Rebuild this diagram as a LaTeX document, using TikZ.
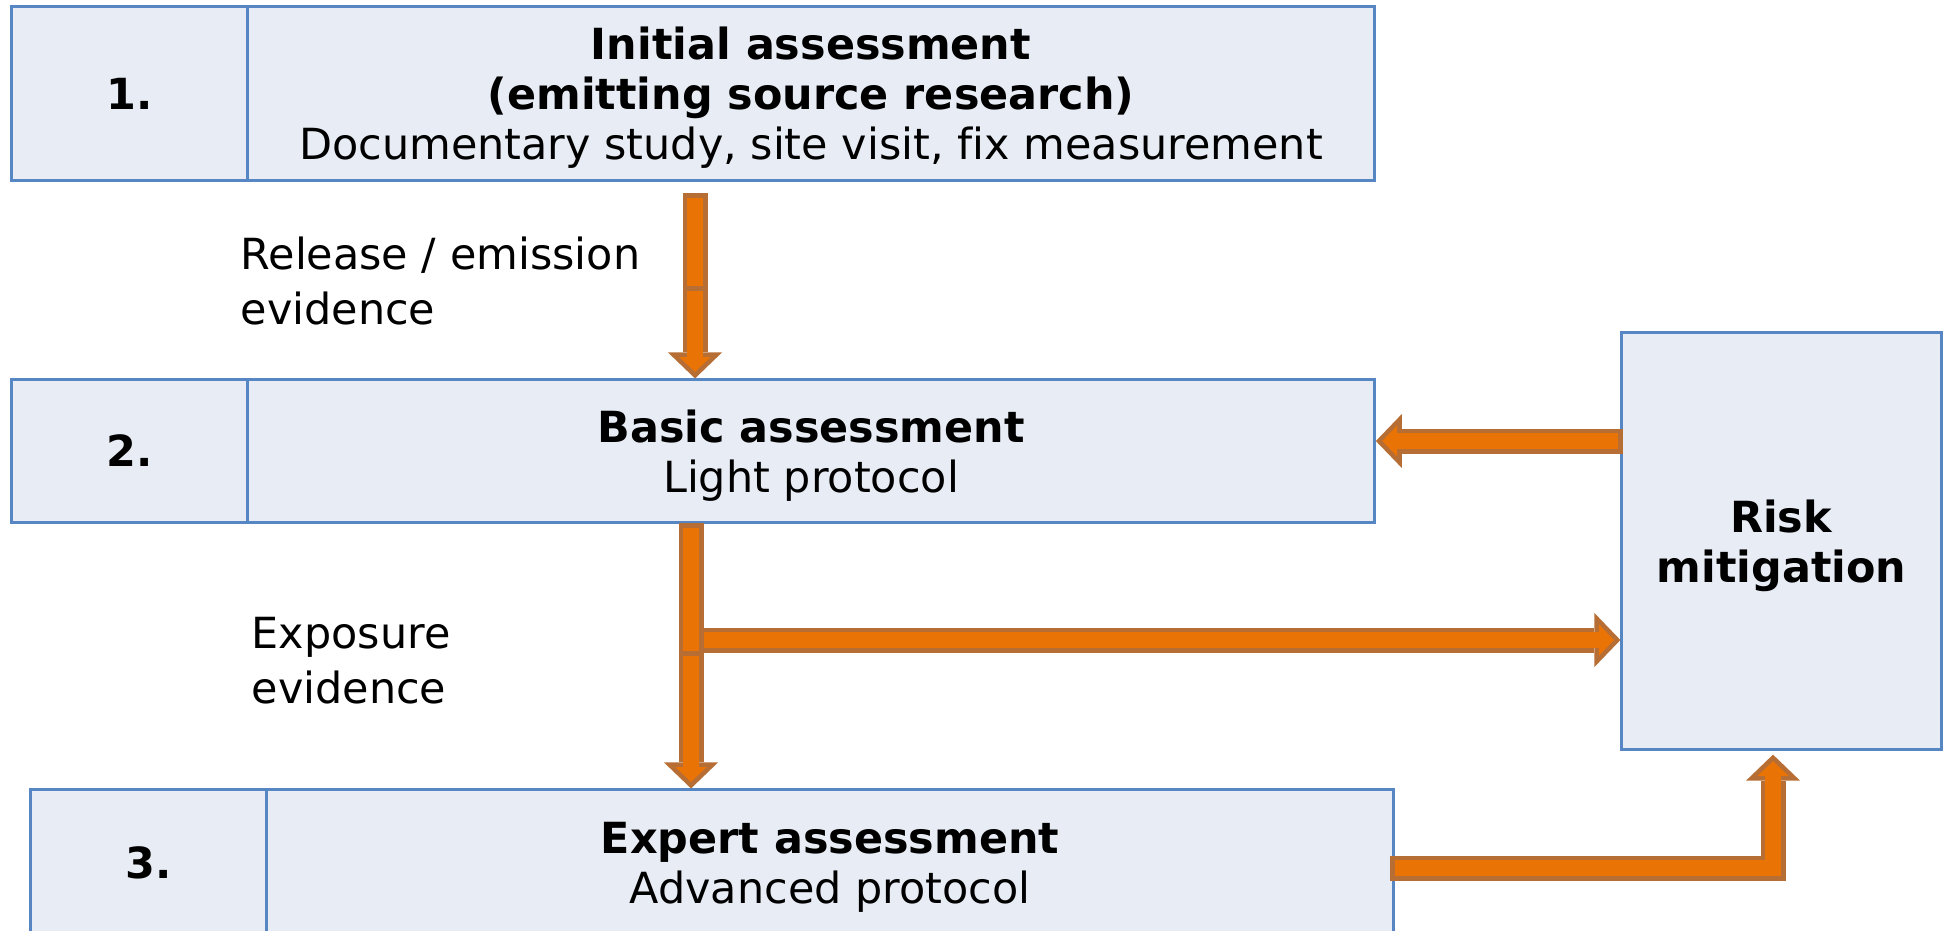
\documentclass[tikz,border=0pt]{standalone}
\usepackage{fontspec}
\setmainfont{DejaVu Sans}[Ligatures=NoCommon]
\usepackage{tikz}
\usetikzlibrary{arrows.meta}
\usepackage{xcolor}
\definecolor{boxfill}{RGB}{232,236,244}
\definecolor{boxline}{RGB}{86,134,196}
\definecolor{flowfill}{RGB}{234,115,5}
\definecolor{flowline}{RGB}{183,110,52}

\begin{document}
\begin{tikzpicture}[x=0.01cm,y=-0.01cm,
 box/.style={draw=boxline,fill=boxfill,line width=0.03cm,inner sep=0pt},
 txt/.style={font=\fontsize{12.2}{14.2}\selectfont,align=center,text depth=0pt},
 note/.style={font=\fontsize{12.2}{15.6}\selectfont,align=left,anchor=west,inner sep=0pt},
 flowbar/.style={draw=flowline,line width=0.25cm,
   postaction={draw=flowfill,line width=0.155cm,shorten <=0.047cm}},
 flow/.style={draw=flowline,line width=0.25cm,line join=miter,
   -{Triangle[length=0.26cm,width=0.54cm,line width=0pt]},
   postaction={draw=flowfill,line width=0.155cm,shorten <=0.047cm,shorten >=0.065cm,
   -{Triangle[length=0.148cm,width=0.31cm,line width=0pt]}}}]
 \clip (0,0) rectangle (1946,930);

 \foreach \n/\x/\y/\h in {1/130/93.5/1.73, 2/130/451/1.42, 3/148.5/863/1.46}{
  \node[box,txt,minimum width=2.36cm,minimum height=\h cm] (n\n) at (\x,\y) {\textbf{\n.}};
 }
 \node[box,txt,minimum width=11.26cm,minimum height=1.73cm] (b1) at (811,93.5)
  {\textbf{Initial assessment}\\\textbf{(emitting source research)}\\Documentary study, site visit, fix measurement};
 \node[box,txt,minimum width=11.26cm,minimum height=1.42cm] (b2) at (811,451)
  {\textbf{Basic assessment}\\Light protocol};
 \node[box,txt,minimum width=11.26cm,minimum height=1.46cm] (b3) at (830,863)
  {\textbf{Expert assessment}\\Advanced protocol};
 \node[box,txt,minimum width=3.19cm,minimum height=4.16cm] (risk) at (1781.5,541)
  {\textbf{Risk}\\\textbf{mitigation}};

 \node[note] (rel) at (240,281) {Release / emission\\evidence};
 \node[note] (exp) at (251,661) {Exposure\\evidence};

 \coordinate (t1) at (695,193);
 \draw[flowbar] (t1) -- ++(0,93) coordinate (j1);
 \draw[flow] (j1) -- (j1 |- b2.north);

 \coordinate (t2) at (691,523);
 \coordinate (k2) at (691,640);
 \coordinate (j2) at (691,651);
 \draw[flow] (k2) -- (k2 -| risk.west);
 \draw[flowbar] (t2) -- (j2);
 \draw[flow] (j2) -- (j2 |- b3.north);

 \coordinate (m3) at (1623,441);
 \draw[flow] (m3) -- (m3 -| b2.east);

 \coordinate (s4) at (1390,868);
 \draw[flow] (s4) -| ([xshift=-0.085cm,yshift=-0.04cm]risk.south);
\end{tikzpicture}
\end{document}
